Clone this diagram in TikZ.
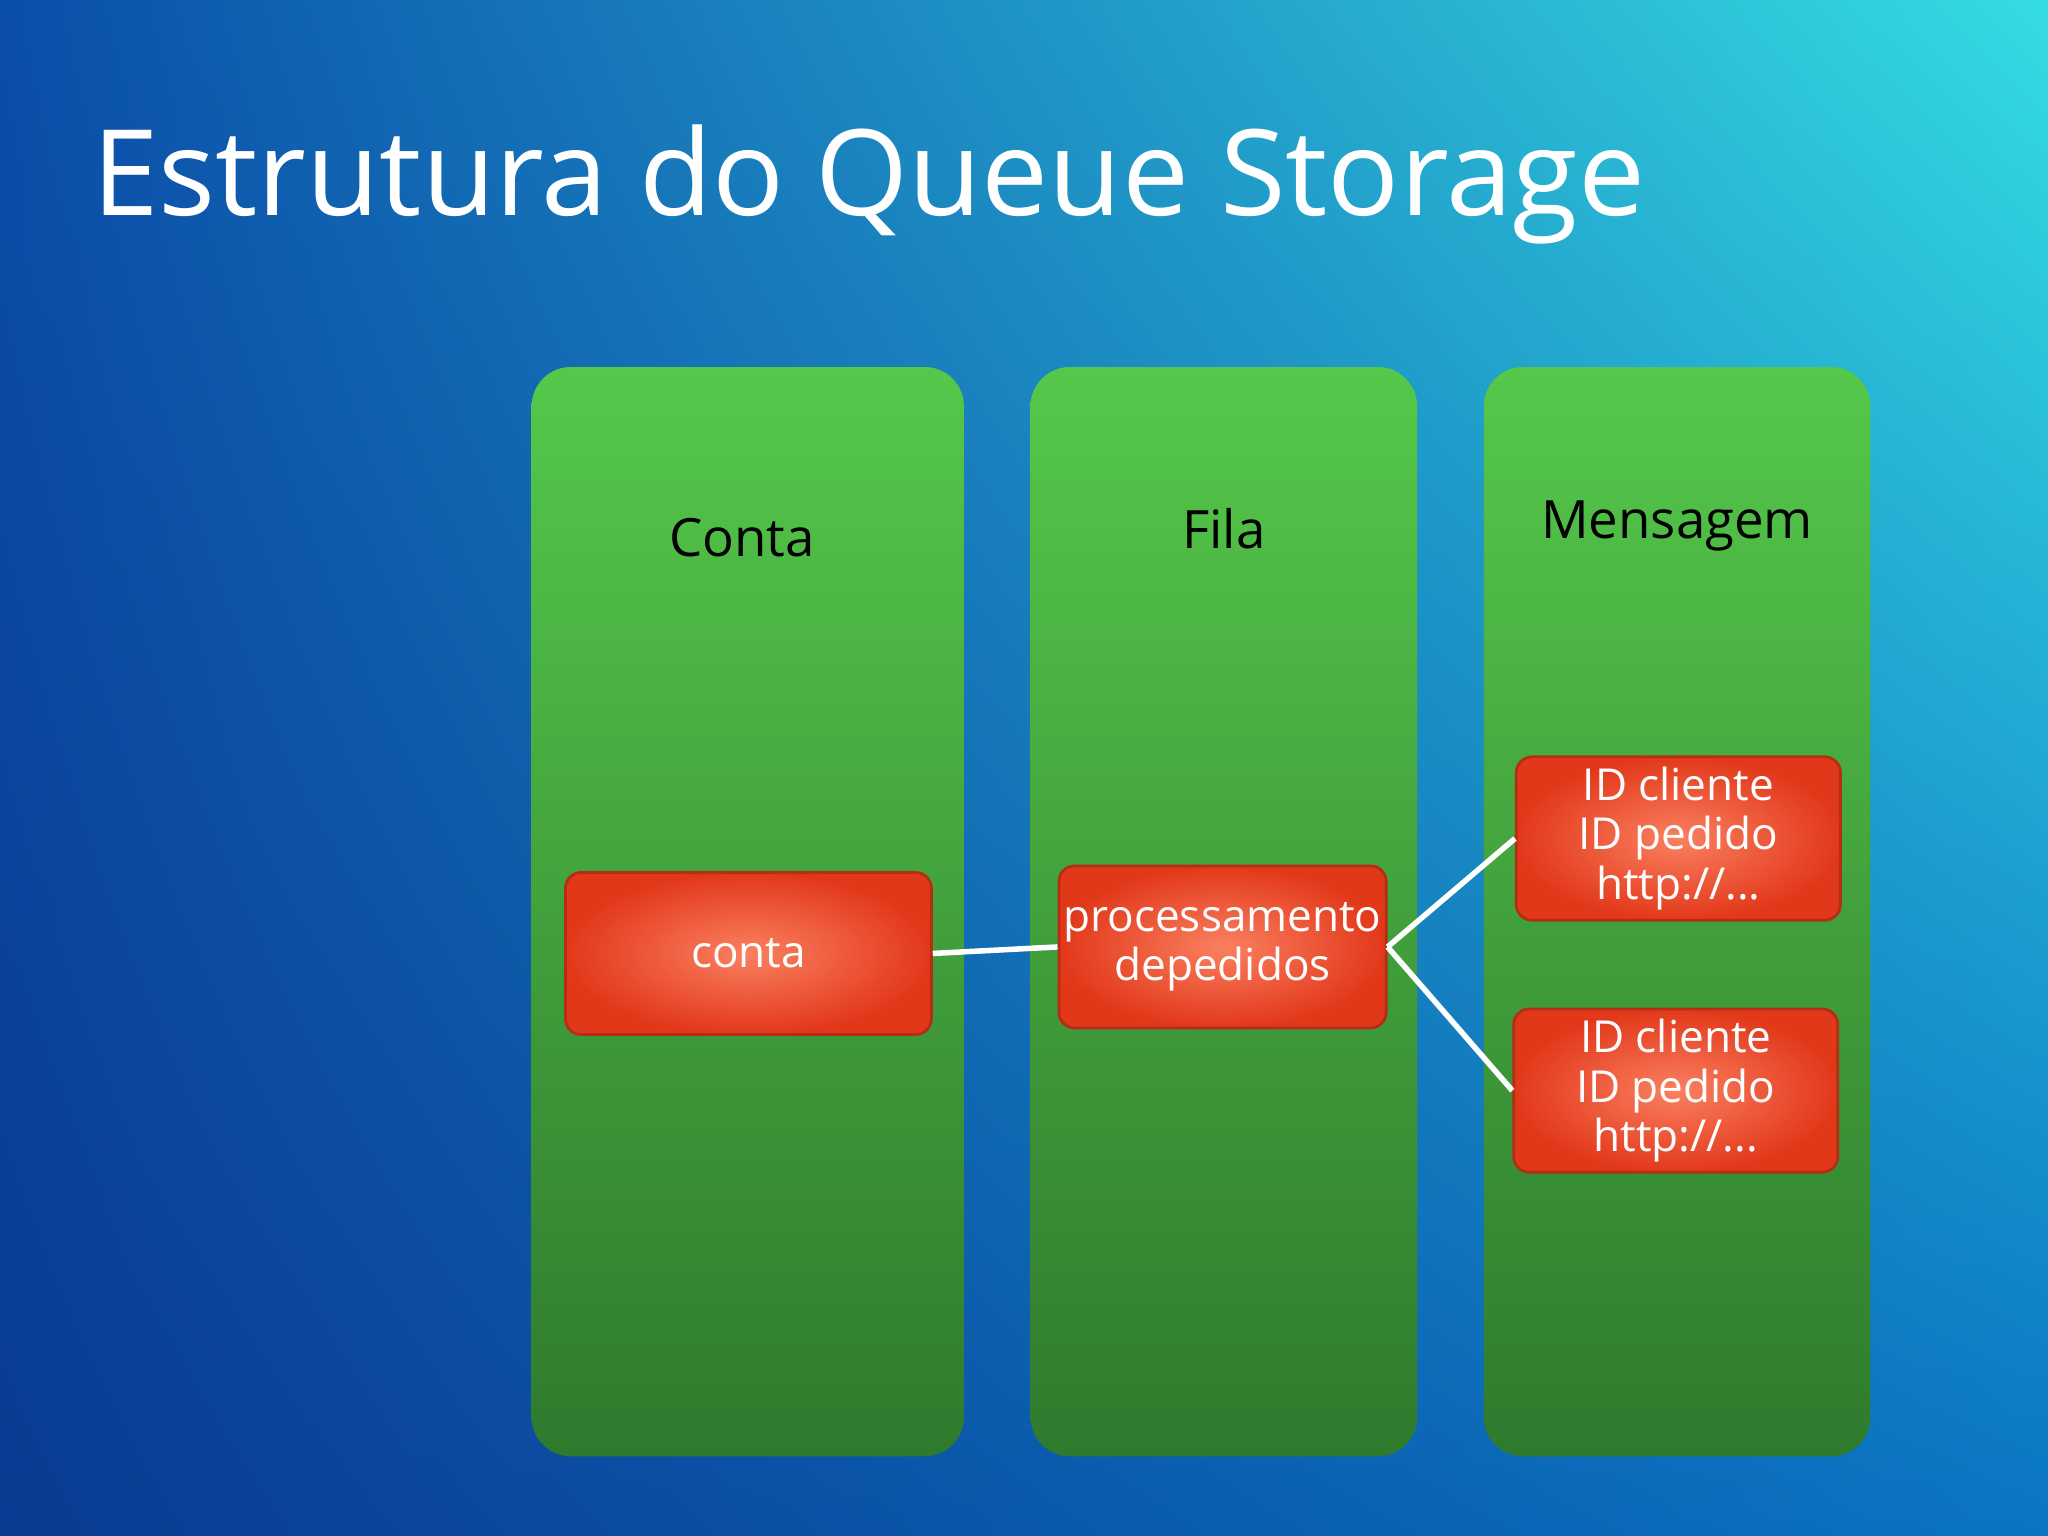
\documentclass[tikz,border=0pt]{standalone}
\usepackage{fontspec}
\setmainfont{Open Sans}
\usetikzlibrary{shadings}
\definecolor{gtop}{HTML}{55C84A}
\definecolor{gbot}{HTML}{2F7A2E}
\definecolor{rout}{HTML}{E2381A}
\definecolor{rin}{HTML}{FA8060}
\definecolor{bgll}{HTML}{0A3A92}
\definecolor{bgur}{HTML}{35DCE2}
\definecolor{bgul}{HTML}{0A4EAA}
\definecolor{bglr}{HTML}{0A74C4}
\begin{document}
\begin{tikzpicture}[x=0.01cm,y=-0.01cm,
  col/.style={rounded corners=0.3cm,top color=gtop,bottom color=gbot},
  coltitle/.style={font=\fontsize{11.5}{14}\selectfont,text=black},
  rbox/.style={draw=rout!80!black,line width=0.6pt,rounded corners=0.12cm,inner color=rin,outer color=rout,
     font=\fontsize{9.6}{10.8}\selectfont,text=white,align=center,inner sep=1pt},
  link/.style={white,line width=1.2pt}]
\useasboundingbox (0,0) rectangle (1568,1176);
\shade[lower left=bgll, upper right=bgur, upper left=bgul, lower right=bglr] (0,0) rectangle (1568,1176);
\node[anchor=base west,text=white,font=\fontsize{26}{30}\selectfont,inner sep=0] (title) at (70,165) {Estrutura do Queue Storage};
\shade[col] (407,281) rectangle (738,1115);
\shade[col] (789,281) rectangle (1085,1115);
\shade[col] (1136,281) rectangle (1432,1115);
\node[coltitle] (t1) at (568,412) {Conta};
\node[coltitle] (t2) at (937,405) {Fila};
\node[coltitle] (t3) at (1284,403) {Mensagem};
\node[rbox,minimum width=2.8cm,minimum height=1.24cm] (conta) at (573,730) {conta};
\node[rbox,minimum width=2.47cm,minimum height=1.24cm] (proc) at (936,725) {processamento\\depedidos};
\node[rbox,minimum width=2.48cm,minimum height=1.25cm] (m1) at (1285,642) {ID cliente\\ID pedido\\http://...};
\node[rbox,minimum width=2.48cm,minimum height=1.25cm] (m2) at (1283,835) {ID cliente\\ID pedido\\http://...};
\draw[link] (conta.east) -- (proc.west);
\draw[link] (proc.east) -- (m1.west);
\draw[link] (proc.east) -- (m2.west);
\end{tikzpicture}
\end{document}
